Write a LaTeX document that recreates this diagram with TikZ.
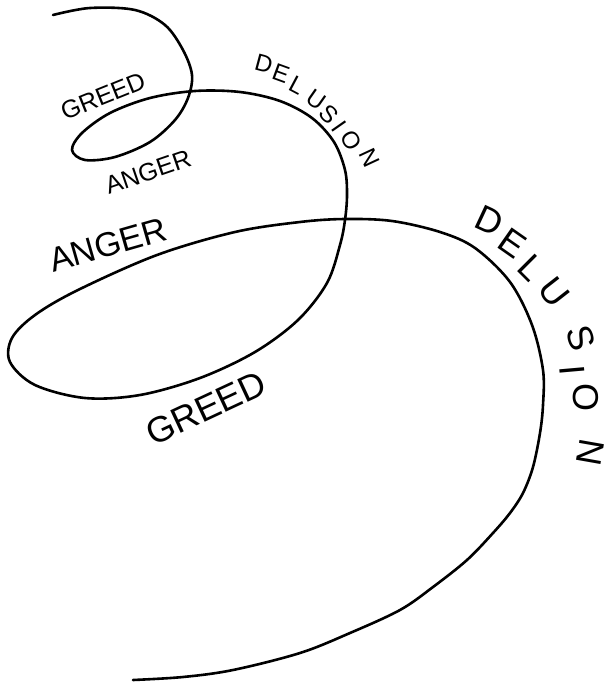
\documentclass[tikz,border=0pt]{standalone}
\usepackage{fontspec}
\setmainfont{Liberation Sans}
\newcommand{\handsize}[1]{\fontsize{#1}{#1}\selectfont}

\begin{document}
\begin{tikzpicture}[x=1pt,y=-1pt,
  spiral/.style={line width=2.6pt,line cap=round,line join=round},
  word/.style={inner sep=0pt,font=\handsize{#1}}]
  \useasboundingbox (0,0) rectangle (613,687);
  % the spiral, drawn in one stroke from the top left
  \draw[spiral] plot[smooth,tension=0.55] coordinates {
    (53,15) (90,8) (135,10) (165,25) (183,50) (192,75) (188,98)
    (175,120) (150,142) (115,157) (85,160) (72,150) (82,133)
    (110,113) (150,98) (195,91) (240,92) (280,101) (312,118)
    (334,142) (345,170) (347,195) (345,220) (340,245) (327,283)
    (298,320) (255,352) (200,378) (140,395) (85,398) (35,385)
    (10,362) (12,338) (35,315) (78,290) (157,255) (235,232)
    (300,222) (345,219) (392,221) (440,232) (475,248) (510,282)
    (532,325) (543,370) (543,405) (540,433) (533,467) (523,493)
    (510,513) (493,533) (467,560) (433,587) (400,610) (350,633)
    (300,653) (233,670) (183,677) (133,680)};
  % words on the small loop
  \node[word=25,rotate=22] (greedA) at (103,96) {GREED};
  \node[word=25,rotate=19] (angerA) at (148,172) {ANGER};
  \foreach \ch/\x/\y/\r [count=\i] in {D/264/64/-15,E/281/73/-20,
      L/297/85/-28,U/316/100/-35,S/329/114/-45,I/339/126/-55,
      O/351/140/-60,N/370/158/-65}{
    \node[word=24,rotate=\r] (delA\i) at (\x,\y) {\ch};
  }
  % words on the big loop
  \node[word=34,rotate=16] (angerB) at (108,245) {ANGER};
  \node[word=36,rotate=25] (greedB) at (206,408) {GREED};
  \foreach \ch/\x/\y/\r [count=\i] in {D/490/221/-25,E/512/243/-35,
      L/531/268/-45,U/554/292/-52,S/581/338/-72,I/572/370/-85,
      O/586/397/-90,N/590/452/-100}{
    \node[word=36,rotate=\r] (delB\i) at (\x,\y) {\ch};
  }
\end{tikzpicture}
\end{document}
